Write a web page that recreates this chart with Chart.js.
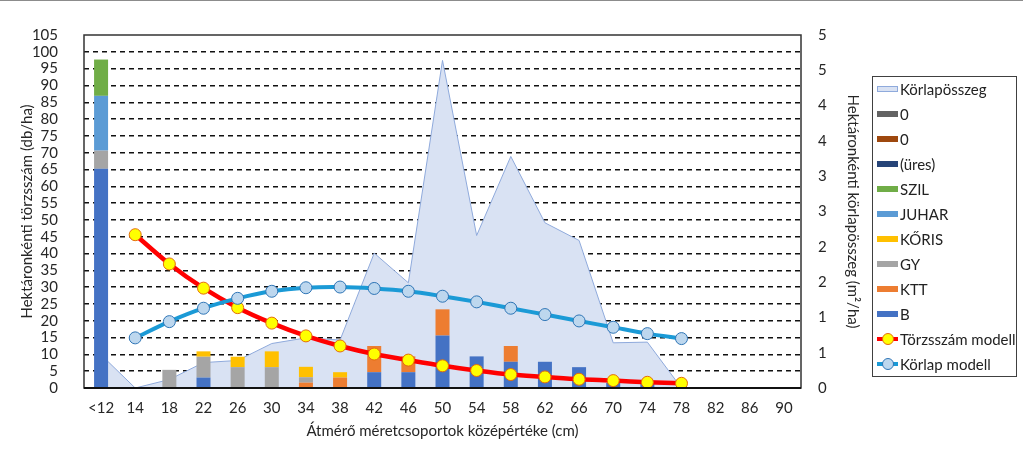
<!DOCTYPE html>
<html>
<head>
<meta charset="utf-8">
<script src="https://cdn.jsdelivr.net/npm/chart.js@4/dist/chart.umd.min.js"></script>
<style>
  body { margin: 0; background: #fff; font-family: Lato, sans-serif; }
  #wrap { position: relative; width: 1023px; height: 452px; }
  #topline { position: absolute; left: 0; top: 0; width: 1023px; height: 1px; background: #8c8c8c; }
  #legend { position: absolute; left: 872px; top: 76px; width: 145px; height: 301px;
            border: 1px solid #404040; box-sizing: border-box; }
  .item { position: absolute; left: 4px; height: 20px; display: flex; align-items: center;
          font-size: 15px; color: #222; white-space: nowrap; }
  .sym { position: relative; width: 21px; height: 20px; margin-right: 2px; }
  .box { position: absolute; left: 0; top: 7px; width: 21px; height: 6px; box-sizing: border-box; }
  .ln { position: absolute; left: 0; top: 8px; width: 21px; height: 4px; }
  .dot { position: absolute; left: 5px; top: 4px; width: 10px; height: 10px; border-radius: 50%; border: 1px solid; }
</style>
</head>
<body>
<div id="wrap">
  <canvas id="chart" width="1023" height="452"></canvas>
  <div id="topline"></div>
  <div id="legend"></div>
</div>
<script>
// diameter classes (cm)
const categories = ['<12', '14', '18', '22', '26', '30', '34', '38', '42', '46', '50',
                    '54', '58', '62', '66', '70', '74', '78', '82', '86', '90'];

// stems per hectare by species (db/ha)
const treesB     = [65.2, 0, 0, 3.1, 0, 0, 0, 0, 4.7, 4.7, 15.6, 9.4, 7.8, 7.8, 6.2, 1.5, 1.5, 0, 0, 0, 0];
const treesKTT   = [0, 0, 0, 0, 0, 0, 1.6, 3.1, 7.8, 4.7, 7.8, 0, 4.7, 0, 0, 0, 0, 0, 0, 0, 0];
const treesGY    = [5.4, 0, 5.4, 6.2, 6.2, 6.2, 1.6, 0, 0, 0, 0, 0, 0, 0, 0, 0, 0, 0, 0, 0, 0];
const treesKORIS = [0, 0, 0, 1.6, 3.1, 4.7, 3.1, 1.6, 0, 0, 0, 0, 0, 0, 0, 0, 0, 0, 0, 0, 0];
const treesJUHAR = [16.3, 0, 0, 0, 0, 0, 0, 0, 0, 0, 0, 0, 0, 0, 0, 0, 0, 0, 0, 0, 0];
const treesSZIL  = [10.8, 0, 0, 0, 0, 0, 0, 0, 0, 0, 0, 0, 0, 0, 0, 0, 0, 0, 0, 0, 0];
const treesEmpty = [];

// basal area per hectare (m2/ha)
const basalArea  = [0.47, 0, 0.12, 0.36, 0.39, 0.63, 0.71, 0.68, 1.91, 1.49, 4.64,
                    2.16, 3.28, 2.34, 2.09, 0.64, 0.65, 0, null, null, null];

// models
const stemModel  = [null, 45.6, 36.9, 29.7, 23.9, 19.3, 15.5, 12.5, 10.1, 8.3, 6.6,
                    5.2, 4.0, 3.3, 2.6, 2.2, 1.7, 1.4, null, null, null];
const basalModel = [null, 0.71, 0.94, 1.13, 1.27, 1.37, 1.42, 1.43, 1.41, 1.37, 1.30,
                    1.22, 1.13, 1.04, 0.95, 0.86, 0.77, 0.70, null, null, null];

Chart.defaults.font.family = 'Lato, sans-serif';
Chart.defaults.font.size = 15;
Chart.defaults.color = '#262626';

function bar(label, data, color) {
    return { type: 'bar', label, data, backgroundColor: color, stack: 'trees',
             yAxisID: 'y', order: 5, barPercentage: 0.41, categoryPercentage: 1 };
}

const datasets = [
    bar('B', treesB, '#4472C4'),
    bar('KTT', treesKTT, '#ED7D31'),
    bar('GY', treesGY, '#A5A5A5'),
    bar('KŐRIS', treesKORIS, '#FFC000'),
    bar('JUHAR', treesJUHAR, '#5B9BD5'),
    bar('SZIL', treesSZIL, '#70AD47'),
    bar('(üres)', treesEmpty, '#264478'),
    bar('0', treesEmpty, '#9E480E'),
    bar('0', treesEmpty, '#636363'),
    {
        type: 'line', label: 'Körlapösszeg', data: basalArea, yAxisID: 'y1',
        fill: 'origin', backgroundColor: '#D9E2F3', borderColor: '#8FAADC',
        borderWidth: 1, pointRadius: 0, tension: 0, order: 10
    },
    {
        type: 'line', label: 'Törzsszám modell', data: stemModel, yAxisID: 'y', stack: 'm1',
        borderColor: '#FF0000', borderWidth: 4.5, pointRadius: 6, pointBorderWidth: 1,
        pointBackgroundColor: '#FFFF00', pointBorderColor: '#E46C0A', tension: 0.3, order: 2
    },
    {
        type: 'line', label: 'Körlap modell', data: basalModel, yAxisID: 'y1',
        borderColor: '#1B9AD6', borderWidth: 4, pointRadius: 6, pointBorderWidth: 1,
        pointBackgroundColor: '#BDD7EE', pointBorderColor: '#2E75B6', tension: 0.3, order: 1
    }
];

// plot frame
const framePlugin = {
    id: 'frame',
    afterDatasetsDraw(chart) {
        const { ctx, chartArea: a } = chart;
        ctx.save();
        ctx.strokeStyle = '#333';
        ctx.lineWidth = 1.5;
        ctx.strokeRect(a.left, a.top, a.right - a.left, a.bottom - a.top);
        ctx.strokeStyle = '#111';
        ctx.lineWidth = 2;
        ctx.beginPath();
        ctx.moveTo(a.left, a.bottom);
        ctx.lineTo(a.right, a.bottom);
        ctx.stroke();
        ctx.restore();
    }
};

const chart = new Chart(document.getElementById('chart'), {
    data: { labels: categories, datasets },
    options: {
        responsive: false,
        animation: false,
        devicePixelRatio: 1,
        layout: { padding: { left: 0, top: 15, right: 152, bottom: 0 } },
        plugins: { legend: { display: false }, tooltip: { enabled: false } },
        scales: {
            x: {
                stacked: true,
                offset: true,
                grid: { display: false, drawTicks: false },
                border: { display: false },
                ticks: { padding: 11, maxRotation: 0, autoSkip: false },
                title: { display: true, text: 'Átmérő méretcsoportok középértéke (cm)',
                         padding: { top: 0, bottom: 12 } },
                afterFit: s => { s.height = 64; }
            },
            y: {
                stacked: true,
                position: 'left',
                min: 0, max: 105,
                ticks: { stepSize: 5, padding: 26, autoSkip: false },
                grid: {
                    drawTicks: false,
                    color: c => (c.tick.value === 0 || c.tick.value === 105) ? 'rgba(0,0,0,0)' : '#111',
                    lineWidth: 1.4
                },
                border: { display: false, dash: [5, 4] },
                title: { display: true, text: 'Hektáronkénti törzsszám (db/ha)',
                         padding: { top: 18, bottom: 0 } },
                afterFit: s => { s.width = 84; }
            },
            y1: {
                position: 'right',
                min: 0, max: 5,
                ticks: { stepSize: 0.5, padding: 17, autoSkip: false, callback: v => Math.round(v) },
                grid: { display: false, drawTicks: false },
                border: { display: false },
                title: { display: true, text: 'Hektáronkénti körlapösszeg (m²/ha)',
                         padding: { top: 9, bottom: 0 } },
                afterFit: s => { s.width = 70; }
            }
        }
    },
    plugins: [framePlugin]
});

// legend (Excel order)
const legendOrder = [9, 8, 7, 6, 5, 4, 3, 2, 1, 0, 10, 11];
const legend = document.getElementById('legend');
legendOrder.forEach((idx, i) => {
    const ds = chart.data.datasets[idx];
    const item = document.createElement('div');
    item.className = 'item';
    item.style.top = (2 + i * 25) + 'px';
    const sym = document.createElement('div');
    sym.className = 'sym';
    if (ds.type === 'bar' || ds.fill) {
        const b = document.createElement('div');
        b.className = 'box';
        b.style.background = ds.backgroundColor;
        if (ds.fill) b.style.border = '1px solid ' + ds.borderColor;
        sym.appendChild(b);
    } else {
        const l = document.createElement('div');
        l.className = 'ln';
        l.style.background = ds.borderColor;
        const d = document.createElement('div');
        d.className = 'dot';
        d.style.background = ds.pointBackgroundColor;
        d.style.borderColor = ds.pointBorderColor;
        sym.appendChild(l);
        sym.appendChild(d);
    }
    item.appendChild(sym);
    item.appendChild(document.createTextNode(ds.label));
    legend.appendChild(item);
});
</script>
</body>
</html>
